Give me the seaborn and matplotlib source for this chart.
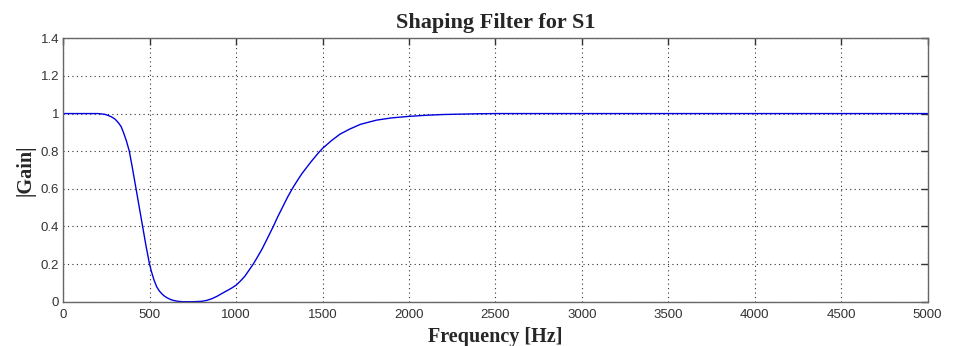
import matplotlib
matplotlib.use("Agg")
import matplotlib.pyplot as plt
import seaborn as sns
import pandas as pd

freq_hz = [0, 100, 200, 222, 240, 260, 280, 300, 320, 335, 350, 365, 382, 400, 421,
           440, 459, 478, 498, 510, 525, 540, 555, 570, 585, 600, 620, 640, 665, 690,
           750, 800, 830, 860, 890, 920, 950, 975, 1000, 1025, 1050, 1075, 1099, 1125,
           1150, 1180, 1215, 1240, 1270, 1300, 1331, 1355, 1380, 1430, 1475, 1500,
           1550, 1600, 1658, 1720, 1812, 1900, 2000, 2100, 2200, 2300, 2400, 2500,
           3000, 4000, 5000]
gain = [1.0, 1.0, 1.0, 0.998, 0.996, 0.99, 0.982, 0.97, 0.95, 0.93, 0.895, 0.855,
        0.80, 0.71, 0.60, 0.50, 0.40, 0.30, 0.204, 0.16, 0.115, 0.08, 0.058, 0.042,
        0.03, 0.021, 0.012, 0.006, 0.002, 0.0, 0.0, 0.002, 0.007, 0.016, 0.029,
        0.045, 0.06, 0.073, 0.088, 0.11, 0.135, 0.168, 0.20, 0.24, 0.28, 0.335,
        0.40, 0.45, 0.505, 0.56, 0.61, 0.645, 0.68, 0.74, 0.79, 0.815, 0.855, 0.89,
        0.918, 0.943, 0.965, 0.977, 0.985, 0.991, 0.995, 0.997, 0.999, 1.0, 1.0,
        1.0, 1.0]

x_ticks = [0, 500, 1000, 1500, 2000, 2500, 3000, 3500, 4000, 4500, 5000]
y_ticks = [0, 0.2, 0.4, 0.6, 0.8, 1.0, 1.2, 1.4]
y_tick_labels = ["0", "0.2", "0.4", "0.6", "0.8", "1", "1.2", "1.4"]

title = "Shaping Filter for S1"
x_label = "Frequency [Hz]"
y_label = "|Gain|"

sns.set_style("white")
plt.rcParams["font.family"] = ["Liberation Sans", "DejaVu Sans"]

df = pd.DataFrame({"freq": freq_hz, "gain": gain})

fig = plt.figure(figsize=(9.56, 3.46), dpi=100)
ax = fig.add_axes([0.0662, 0.128, 0.9040, 0.7613])

sns.lineplot(data=df, x="freq", y="gain", ax=ax, color="#0000e0", linewidth=1.0)

ax.set_xlim(0, 5000)
ax.set_ylim(0, 1.4)
ax.set_xticks(x_ticks)
ax.set_xticklabels([str(t) for t in x_ticks])
ax.set_yticks(y_ticks)
ax.set_yticklabels(y_tick_labels)

ax.grid(True, linestyle=(0, (1, 3)), color="#333333", linewidth=0.8)
for s in ax.spines.values():
    s.set_color("#666666")
    s.set_linewidth(1.0)
    s.set_visible(True)

ax.tick_params(axis="both", direction="in", length=5, width=1.0, color="#333333",
               labelsize=9.5, labelcolor="#333333", top=True, right=True)
ax.tick_params(axis="x", pad=5.5)
ax.tick_params(axis="y", pad=3)

serif = ["Liberation Serif", "DejaVu Serif"]
ax.set_title(title, fontsize=16, fontweight="bold", family=serif, pad=7.5)
ax.set_xlabel(x_label, fontsize=14.5, fontweight="bold", family=serif, labelpad=4)
ax.set_ylabel(y_label, fontsize=14.5, fontweight="bold", family=serif, labelpad=4)

fig.savefig("out.png", dpi=100)
